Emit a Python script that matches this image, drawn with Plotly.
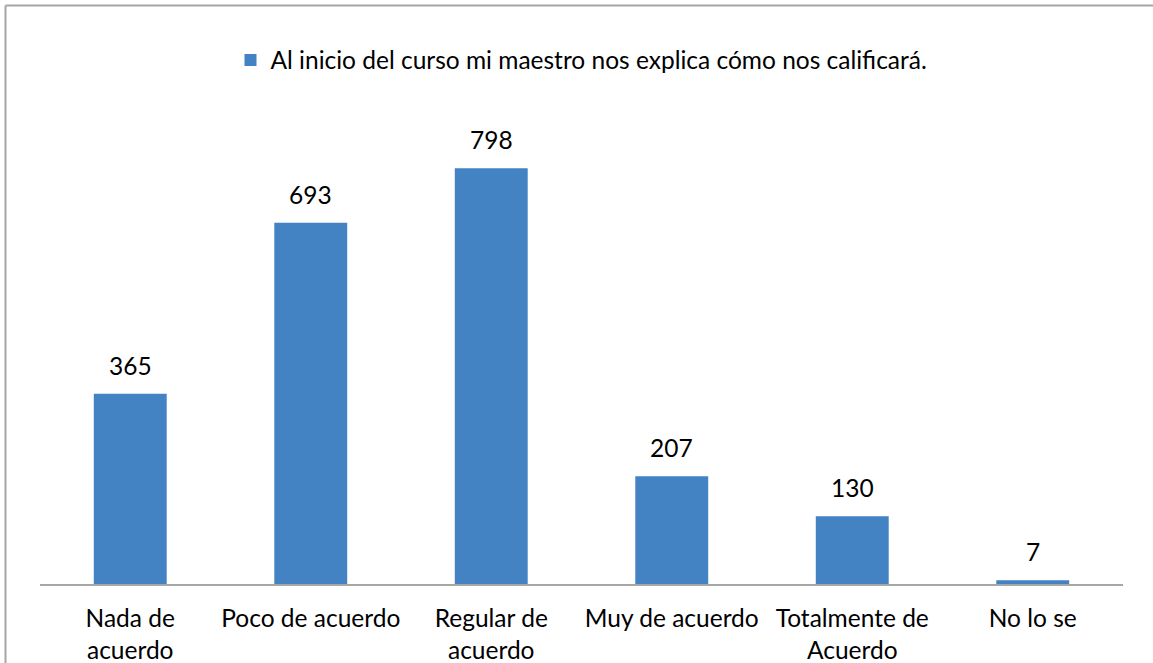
import plotly.graph_objects as go

categories = ["Nada de<br>acuerdo", "Poco de acuerdo", "Regular de<br>acuerdo",
              "Muy de acuerdo", "Totalmente de<br>Acuerdo", "No lo se"]
values = [365, 693, 798, 207, 130, 7]
series_name = "Al inicio del curso mi maestro nos explica cómo nos calificará."

W, H = 1153, 663
ml, mr, mt, mb = 40, 30, 115, 79
pw = W - ml - mr
ph = H - mt - mb
FS = 24.5

fig = go.Figure()
fig.add_trace(go.Bar(
    x=categories, y=values, name=series_name,
    marker=dict(color="#4383c3", line=dict(width=0)),
    showlegend=True,
))

for c, v in zip(categories, values):
    fig.add_annotation(x=c, y=v, text=str(v), showarrow=False,
                       yanchor="bottom", yshift=12,
                       font=dict(size=FS, color="#000000", family="Lato"))

# outer chart frame (left and top edges visible)
bx0 = (5.5 - ml) / pw
by1 = (H - mb - 5.5) / ph
fig.add_shape(type="line", xref="paper", yref="paper", x0=bx0, x1=bx0,
              y0=by1, y1=-0.5, line=dict(color="#a6a6a6", width=2))
fig.add_shape(type="line", xref="paper", yref="paper", x0=bx0, x1=1.2,
              y0=by1, y1=by1, line=dict(color="#a6a6a6", width=2))

fig.update_layout(
    width=W, height=H, autosize=False,
    margin=dict(l=ml, r=mr, t=mt, b=mb, autoexpand=False),
    paper_bgcolor="white", plot_bgcolor="white",
    font=dict(family="Lato", size=FS, color="#000000"),
    bargap=0.596,
    legend=dict(orientation="h", x=0.5, xanchor="center", xref="paper",
                y=(H - mb - 60) / ph, yanchor="middle", yref="paper",
                font=dict(size=FS, family="Lato"),
                itemwidth=30, tracegroupgap=0),
    xaxis=dict(showline=True, linecolor="#a6a6a6", linewidth=2,
               ticks="", showgrid=False, tickfont=dict(size=FS),
               ticklabelstandoff=12, automargin=False),
    yaxis=dict(range=[0, 900], visible=False, showgrid=False, zeroline=False,
               automargin=False),
)

fig.write_html("out.html", config={"displayModeBar": False},
               post_script="document.body.style.margin='0';")
